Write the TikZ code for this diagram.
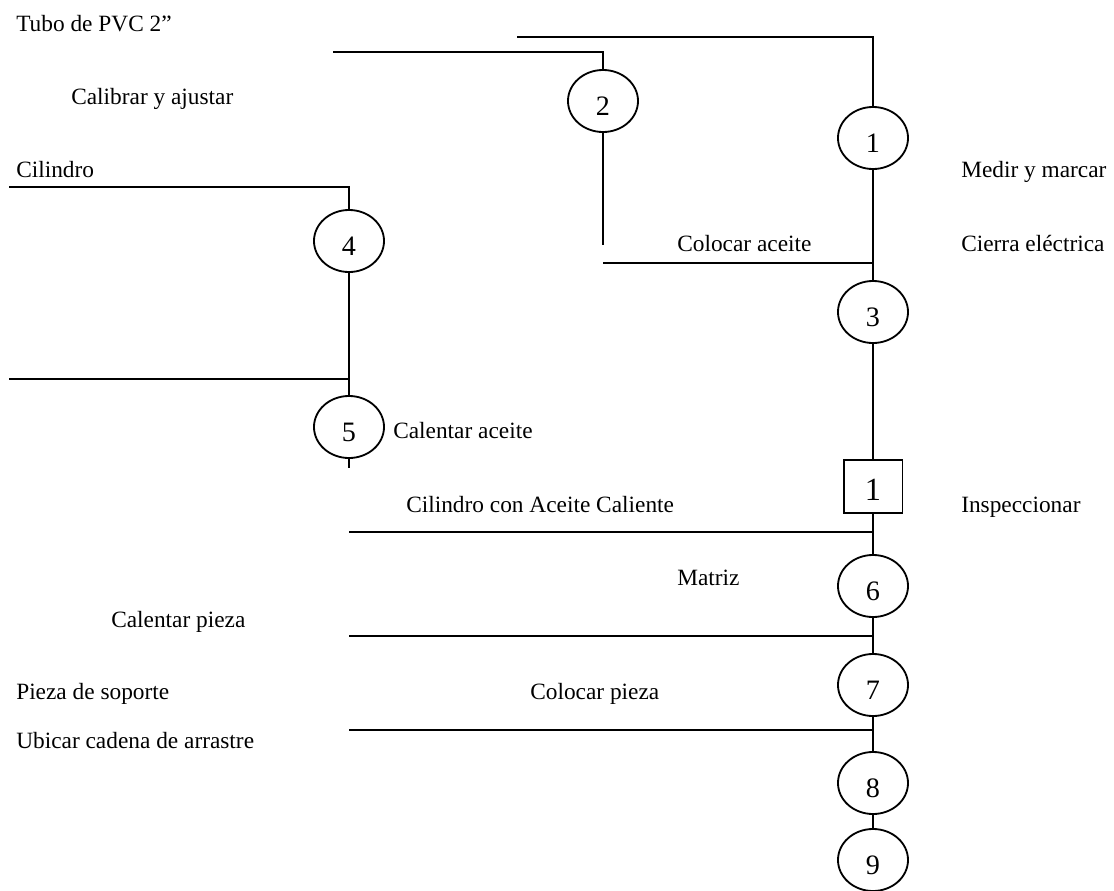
\documentclass[tikz,border=0pt]{standalone}
\usepackage{fontspec}
\setmainfont{Liberation Serif}
\usetikzlibrary{shapes.geometric}

\begin{document}
\begin{tikzpicture}[x=0.025cm, y=-0.025cm,
  opcirc/.style={ellipse, draw, line width=1.3pt,
                 minimum width=1.75cm, minimum height=1.55cm,
                 text height=0.7cm, text depth=0pt,
                 inner sep=0pt, font=\fontsize{20}{24}\selectfont},
  inspbox/.style={rectangle, draw, line width=1.3pt,
                  minimum width=1.47cm, minimum height=1.32cm,
                  text height=0.72cm, text depth=0pt,
                  inner sep=0pt, font=\fontsize{23}{27}\selectfont},
  lbl/.style={anchor=base west, inner sep=0pt,
              font=\fontsize{16.6}{20}\selectfont},
  flow/.style={line width=1.3pt}
]
\useasboundingbox (0,0) rectangle (1114,890);

%% --- OPERACIONES (columna derecha) ---
\node[opcirc] (op1) at (873,138) {1};
\node[opcirc] (op2) at (603,101) {2};
\node[opcirc] (op3) at (873,312) {3};
\node[inspbox] (insp1) at (873,486.5) {1};
\node[opcirc] (op6) at (873,586) {6};
\node[opcirc] (op7) at (873,685) {7};
\node[opcirc] (op8) at (873,783) {8};
\node[opcirc] (op9) at (873,860) {9};

%% --- OPERACIONES (columna izquierda) ---
\node[opcirc] (op4) at (349,241) {4};
\node[opcirc] (op5) at (349,427) {5};

%% --- ENTRADAS ---
\coordinate (tubo) at (517,37);
\coordinate (calib) at (333,52);
\coordinate (cil) at (9,187);
\coordinate (cil2) at (9,379);
\coordinate (aceite) at (603,263);
\coordinate (caliente) at (349,532);
\coordinate (matriz) at (349,636);
\coordinate (soporte) at (349,730);
\coordinate (op2end) at (603,245);
\coordinate (op5end) at (349,468);

%% --- LINEAS ---
\draw[flow] (tubo) -| (op1.north);
\draw[flow] (calib) -| (op2.north);
\draw[flow] (op2.south) -- (op2end);
\draw[flow] (op1.south) -- (op3.north);
\draw[flow] (aceite) -- (aceite -| op1);
\draw[flow] (op3.south) -- (insp1.north);
\draw[flow] (insp1.south) -- (op6.north);
\draw[flow] (caliente) -- (caliente -| op6);
\draw[flow] (op6.south) -- (op7.north);
\draw[flow] (matriz) -- (matriz -| op7);
\draw[flow] (op7.south) -- (op8.north);
\draw[flow] (soporte) -- (soporte -| op8);
\draw[flow] (op8.south) -- (op9.north);

\draw[flow] (cil) -| (op4.north);
\draw[flow] (op4.south) -- (op5.north);
\draw[flow] (cil2) -- (cil2 -| op4);
\draw[flow] (op5.south) -- (op5end);

%% --- TEXTOS ---
\node[lbl] (t1) at (16,31) {Tubo de PVC 2”};
\node[lbl] (t2) at (71,104) {Calibrar y ajustar};
\node[lbl] (t3) at (16,177) {Cilindro};
\node[lbl] (t4) at (961,177) {Medir y marcar};
\node[lbl] (t5) at (677,251) {Colocar aceite};
\node[lbl] (t6) at (961,251) {Cierra eléctrica};
\node[lbl] (t7) at (393,438) {Calentar aceite};
\node[lbl] (t8) at (406,512) {Cilindro con Aceite Caliente};
\node[lbl] (t9) at (961,512) {Inspeccionar};
\node[lbl] (t10) at (677,585) {Matriz};
\node[lbl] (t11) at (111,627) {Calentar pieza};
\node[lbl] (t12) at (16,699) {Pieza de soporte};
\node[lbl] (t13) at (530,699) {Colocar pieza};
\node[lbl] (t14) at (16,748) {Ubicar cadena de arrastre};

\end{tikzpicture}
\end{document}
